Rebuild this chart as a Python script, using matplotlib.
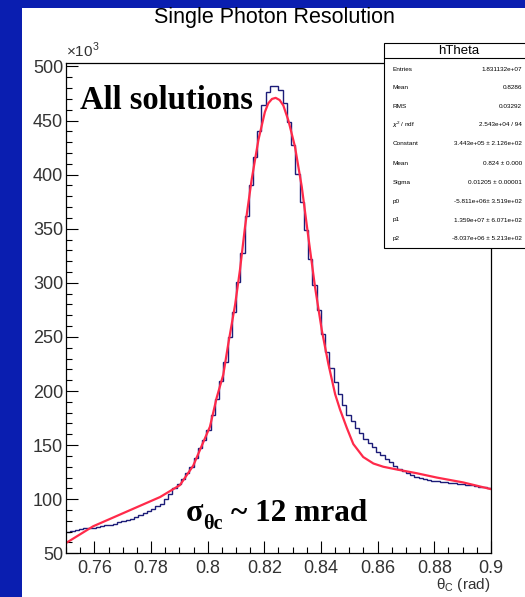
import numpy as np
import matplotlib
matplotlib.use("Agg")
import matplotlib.pyplot as plt
from matplotlib.patches import Rectangle
from matplotlib.ticker import MultipleLocator

plt.rcParams['font.family'] = ['Liberation Sans', 'DejaVu Sans']
plt.rcParams['mathtext.fontset'] = 'custom'
plt.rcParams['mathtext.rm'] = 'Liberation Sans'

# histogram: 100 bins, 0.75 - 0.90 rad, counts in units of 1e3
bin_lo, bin_hi, n_bins = 0.75, 0.90, 100
counts = [
    70, 70.5, 72, 72.5, 73, 73, 73.5, 74, 75, 76,
    76.5, 77.5, 78.5, 79.5, 81, 82, 84, 85.5, 87, 89,
    91, 93.5, 96, 100, 105, 110, 114.5, 119, 124, 130,
    138, 147, 155, 164, 178, 193, 209, 227, 250, 273,
    301, 328, 362, 390, 416, 440, 464, 476, 482, 482,
    478, 466, 449, 427, 401, 375, 349, 322, 298, 275,
    253, 236, 221, 208, 197, 187, 178, 172, 166, 161,
    156, 152, 148, 144, 140.5, 137, 134, 130.5, 128, 126,
    124, 122, 120.5, 119.5, 118.5, 117.5, 117, 116.5, 116, 115.5,
    115, 114.8, 114.5, 114, 113.5, 113, 112, 111.5, 111, 110,
]

# fit curve
fit_x = [0.7500, 0.7596, 0.7714, 0.7832, 0.7902, 0.7949, 0.7985, 0.8008,
         0.8032, 0.8055, 0.8073, 0.8097, 0.8114, 0.8132, 0.8155, 0.8179,
         0.8202, 0.8214, 0.8227, 0.8240, 0.8254, 0.8267, 0.8285, 0.8308,
         0.8332, 0.8355, 0.8379, 0.8403, 0.8426, 0.8450, 0.8467, 0.8491,
         0.8514, 0.8549, 0.8585, 0.8620, 0.8667, 0.8738, 0.8809, 0.8902,
         0.8997]
fit_y = [59.5, 75, 88.5, 102, 113, 131, 153, 167,
         194, 215, 244, 280, 312, 352, 395, 432,
         458, 466, 470, 471, 469, 464, 450, 426,
         389, 343, 296, 256, 225, 197, 183, 166,
         151, 139, 133, 130, 127.5, 124, 120, 115.5,
         109.5]

stat_names = ['Entries', 'Mean', 'RMS', r'$\chi^{2}$ / ndf', 'Constant', 'Mean',
              'Sigma', 'p0', 'p1', 'p2']
stat_vals = ['1.831132e+07', '0.8286', '0.03292', '2.543e+04 / 94',
             '3.443e+05 \u00b1 2.126e+02', '0.824 \u00b1 0.000', '0.01205 \u00b1 0.00001',
             '-5.811e+06\u00b1 3.519e+02', '1.359e+07 \u00b1 6.071e+02',
             '-8.037e+06 \u00b1 5.213e+02']

W, H = 525, 597
fig = plt.figure(figsize=(W / 100, H / 100), dpi=100)
fig.patch.set_facecolor('#0a1eb0')
fig.patches.append(Rectangle((22 / W, 0), 1, 1 - 8 / H, transform=fig.transFigure,
                             facecolor='white', edgecolor='none', zorder=-5))

def fx(p):
    return p / W

def fy(p):
    return 1 - p / H

ax = fig.add_axes([fx(66), fy(553.3), (491 - 66) / W, (553.3 - 62.7) / H])
ax.set_facecolor('white')

edges = np.linspace(bin_lo, bin_hi, n_bins + 1)
ax.stairs(counts, edges, color='#1c1c78', lw=1.0, baseline=None)
ax.plot(fit_x, fit_y, color='#ff2a4a', lw=1.6)

ax.set_xlim(0.75, 0.9)
ax.set_ylim(50, 503.5)
ax.xaxis.set_minor_locator(MultipleLocator(0.005))
ax.yaxis.set_major_locator(MultipleLocator(50))
ax.yaxis.set_minor_locator(MultipleLocator(10))
ax.set_xticks(np.arange(0.76, 0.901, 0.02))
ax.set_xticklabels(['0.76', '0.78', '0.8', '0.82', '0.84', '0.86', '0.88', '0.9'])
ax.tick_params(which='major', direction='in', length=8.5, width=0.8,
               labelsize=13, labelcolor='#333333', top=False, right=False)
ax.tick_params(which='minor', direction='in', length=4.3, width=0.8, top=False, right=False)
ax.tick_params(axis='x', pad=5)
ax.tick_params(axis='y', pad=2)
for s in ax.spines.values():
    s.set_linewidth(0.9)

fig.text(fx(274), fy(18), 'Single Photon Resolution', ha='center', va='center', fontsize=15.5)
fig.text(fx(66), fy(57), r'$\times10^{3}$', ha='left', va='baseline', fontsize=11, color='#333333')
fig.text(fx(490), fy(585), r'$\mathrm{\theta_{C}}$ (rad)', ha='right', va='center',
         fontsize=11, color='#333333')

serif = ['Liberation Serif', 'DejaVu Serif']
fig.text(fx(80), fy(109), 'All solutions', ha='left', va='baseline', fontsize=23.5,
         fontweight='bold', family=serif)
fig.text(fx(186), fy(521), '\u03c3', ha='left', va='baseline', fontsize=23,
         fontweight='bold', family=serif)
fig.text(fx(203), fy(529), '\u03b8c', ha='left', va='baseline', fontsize=14.5,
         fontweight='bold', family=serif)
fig.text(fx(231), fy(521), '~ 12 mrad', ha='left', va='baseline', fontsize=22.5,
         fontweight='bold', family=serif)

# stats box
bx0, bx1, by0, by1, bt = 384, 534, 43.3, 248.3, 58.3
fig.patches.append(Rectangle((fx(bx0), fy(by1)), fx(bx1 - bx0), (by1 - by0) / H,
                             transform=fig.transFigure, facecolor='white',
                             edgecolor='black', lw=0.8, zorder=5))
fig.lines.append(plt.Line2D([fx(bx0), fx(bx1)], [fy(bt), fy(bt)], transform=fig.transFigure,
                            color='black', lw=0.8, zorder=6))
fig.text(fx((bx0 + bx1) / 2), fy(50.5), 'hTheta', ha='center', va='center', fontsize=9.5, zorder=7)
row_y = [69.3, 87.7, 106, 125, 144, 163.3, 182.7, 201.7, 220, 238.3]
for name, val, yy in zip(stat_names, stat_vals, row_y):
    fig.text(fx(392.5), fy(yy), name, ha='left', va='center', fontsize=4.6, zorder=7)
    fig.text(fx(522), fy(yy), val, ha='right', va='center', fontsize=4.6, zorder=7)

fig.savefig('out.png', dpi=100)
